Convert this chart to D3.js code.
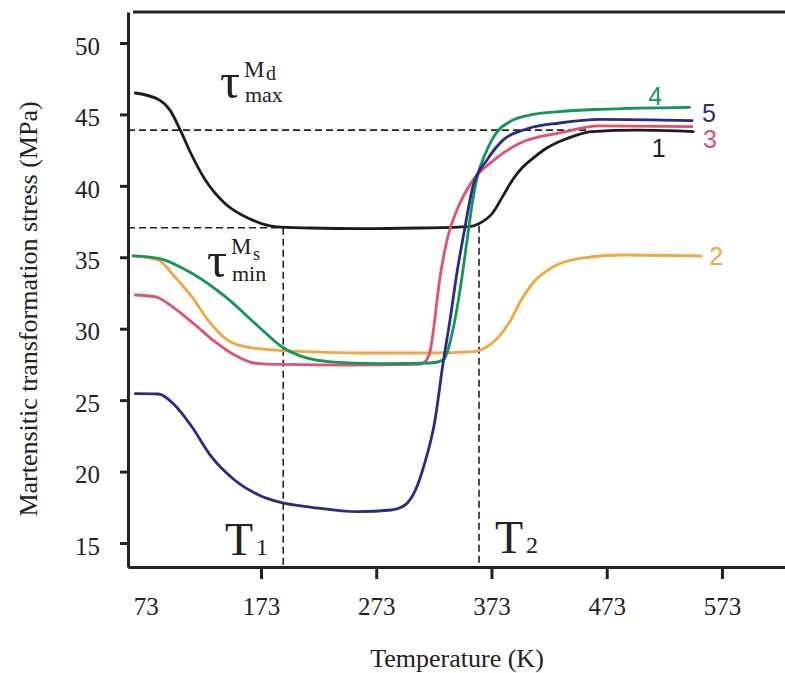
<!DOCTYPE html>
<html>
<head>
<meta charset="utf-8">
<script src="https://cdn.jsdelivr.net/npm/d3@7"></script>
<style>
  body { margin: 0; background: #fff; }
  svg { display: block; }
</style>
</head>
<body>
<div id="chart"></div>
<script>
// ---- data ----
const xTicks = [73, 173, 273, 373, 473, 573];
const yTicks = [15, 20, 25, 30, 35, 40, 45, 50];

// curve 1 (black)
const c1Temp = [64, 85, 94, 103, 112, 124, 142, 163, 185, 215, 260, 310, 354, 362, 374, 383, 392, 400, 410, 420, 432, 445, 460, 500, 548];
const c1Stress = [46.5, 46.0, 45.3, 43.9, 42.3, 40.5, 38.75, 37.7, 37.15, 37.05, 37.0, 37.05, 37.15, 37.35, 38.1, 39.3, 40.5, 41.3, 42.0, 42.6, 43.1, 43.5, 43.8, 43.9, 43.8];

// curve 2 (orange)
const c2Temp = [62, 84, 98, 113, 127, 142, 156, 185, 211, 260, 320, 358, 366, 372, 380, 389, 398, 409, 427, 450, 487, 555];
const c2Stress = [35.1, 34.8, 33.64, 32.24, 30.6, 29.33, 28.8, 28.5, 28.39, 28.3, 28.3, 28.4, 28.6, 28.9, 29.5, 30.5, 31.9, 33.2, 34.35, 34.93, 35.16, 35.09];

// curve 3 (pink)
const c3Temp = [64, 81, 98, 116, 133, 150, 168, 191, 250, 310, 316, 320, 323, 328, 335, 343, 357, 375, 398, 432, 467, 547];
const c3Stress = [32.36, 32.24, 31.43, 30.26, 29.09, 28.16, 27.58, 27.5, 27.45, 27.5, 27.75, 28.5, 30.14, 33.4, 36.4, 38.3, 40.4, 41.8, 43.0, 43.7, 44.2, 44.14];

// curve 4 (green)
const c4Temp = [62, 84, 113, 142, 171, 191, 211, 240, 280, 320, 331, 340, 347, 352, 356, 360, 369, 378, 389, 409, 432, 467, 545];
const c4Stress = [35.1, 34.93, 33.88, 32.24, 30.14, 28.74, 28.0, 27.65, 27.55, 27.6, 27.8, 30.1, 33.4, 36.3, 38.6, 40.4, 42.5, 43.8, 44.5, 45.0, 45.2, 45.36, 45.5];

// curve 5 (navy)
const c5Temp = [64, 84, 98, 113, 130, 150, 171, 191, 217, 257, 286, 298, 307, 315, 324, 331, 337, 343, 350, 357, 369, 383, 404, 432, 467, 547];
const c5Stress = [25.45, 25.43, 24.66, 23.14, 21.04, 19.41, 18.36, 17.82, 17.5, 17.19, 17.31, 17.66, 18.7, 20.58, 23.6, 27.6, 30.6, 33.9, 37.1, 40.0, 41.8, 43.2, 44.0, 44.4, 44.66, 44.56];

const seriesNames = ["1", "2", "3", "4", "5"];
const seriesColors = ["#1c1c1c", "#f0a845", "#de5373", "#14955a", "#2c2b83"];

// reference levels
const tauMax = 43.9, tauMin = 37.07;
const T1 = 192.3, T2 = 362.2;

// ---- chart ----
const svg = d3.select("#chart").append("svg")
  .attr("width", 785)
  .attr("height", 673);

const x = d3.scaleLinear().domain([57.6, 627.7]).range([128, 785]);
const y = d3.scaleLinear().domain([13.32, 52.17]).range([567, 12]);

const serif = "'Liberation Serif', 'Times New Roman', serif";
const sans = "'Liberation Sans', Arial, sans-serif";

// dashed guide lines
const guides = [
  [[x.domain()[0], tauMax], [458.5, tauMax]],
  [[x.domain()[0], tauMin], [T1, tauMin]],
  [[T1, tauMin], [T1, y.domain()[0]]],
  [[T2, 37.2], [T2, y.domain()[0]]]
];
svg.selectAll(".guide")
  .data(guides)
  .enter()
  .append("line")
  .attr("class", "guide")
  .attr("x1", d => x(d[0][0]))
  .attr("y1", d => y(d[0][1]))
  .attr("x2", d => x(d[1][0]))
  .attr("y2", d => y(d[1][1]))
  .attr("stroke", "#222")
  .attr("stroke-width", 1.6)
  .attr("stroke-dasharray", "7,4");

// curves
const allSeries = [
  d3.zip(c1Temp, c1Stress),
  d3.zip(c2Temp, c2Stress),
  d3.zip(c3Temp, c3Stress),
  d3.zip(c4Temp, c4Stress),
  d3.zip(c5Temp, c5Stress)
];

const line = d3.line()
  .x(d => x(d[0]))
  .y(d => y(d[1]))
  .curve(d3.curveMonotoneX);

svg.selectAll(".curve")
  .data(allSeries)
  .enter()
  .append("path")
  .attr("class", "curve")
  .attr("d", line)
  .attr("fill", "none")
  .attr("stroke", (d, i) => seriesColors[i])
  .attr("stroke-width", 2.8)
  .attr("stroke-linecap", "round");

// axes
const xAxis = svg.append("g")
  .attr("transform", "translate(0,567)")
  .call(d3.axisBottom(x).tickValues(xTicks).tickSize(12).tickSizeOuter(0).tickPadding(18));

const yAxis = svg.append("g")
  .attr("transform", "translate(128,0)")
  .call(d3.axisLeft(y).tickValues(yTicks).tickSize(8).tickSizeOuter(0).tickPadding(20));

[xAxis, yAxis].forEach(g => {
  g.select(".domain").attr("stroke", "#222").attr("stroke-width", 3);
  g.selectAll(".tick line").attr("stroke", "#222").attr("stroke-width", 3);
  g.selectAll(".tick text")
    .attr("fill", "#222")
    .style("font-family", serif)
    .style("font-size", "25px");
});
yAxis.selectAll(".tick text").attr("dy", "0.45em");
xAxis.selectAll(".tick").filter(d => d === 73).select("line").remove();

// top frame line
svg.append("line")
  .attr("x1", x.range()[0] + 5)
  .attr("x2", x.range()[1])
  .attr("y1", y.range()[1])
  .attr("y2", y.range()[1])
  .attr("stroke", "#222")
  .attr("stroke-width", 3);

// axis titles
svg.append("text")
  .attr("x", 457)
  .attr("y", 667)
  .attr("text-anchor", "middle")
  .style("font-family", serif)
  .style("font-size", "26px")
  .attr("fill", "#222")
  .text("Temperature (K)");

svg.append("text")
  .attr("transform", "translate(37,309) rotate(-90)")
  .attr("text-anchor", "middle")
  .style("font-family", serif)
  .style("font-size", "26px")
  .attr("fill", "#222")
  .text("Martensitic transformation stress (MPa)");

// curve number labels
const labelTemp = [512, 562, 556.5, 509, 555.6];
const labelStress = [42.0, 34.46, 42.65, 45.66, 44.47];
svg.selectAll(".num")
  .data(seriesNames)
  .enter()
  .append("text")
  .attr("class", "num")
  .attr("x", (d, i) => x(labelTemp[i]))
  .attr("y", (d, i) => y(labelStress[i]))
  .attr("fill", (d, i) => seriesColors[i])
  .style("font-family", sans)
  .style("font-size", "25px")
  .text(d => d);

// tau annotations
function tau(t, s, sup, supSub, subDy, subSize, sub, supDy) {
  const g = svg.append("g")
    .attr("transform", `translate(${x(t)},${y(s)})`)
    .attr("fill", "#222")
    .style("font-family", serif);
  g.append("text").style("font-size", "50px").text("τ");
  g.append("text").attr("x", 24).attr("y", supDy).style("font-size", "23px").text(sup);
  g.append("text").attr("x", 46).attr("y", subDy).style("font-size", subSize).text(supSub);
  g.append("text").attr("x", 25).attr("y", 4).style("font-size", "22px").text(sub);
}
tau(137.4, 46.15, "M", "d", -18, "20px", "max", -21);
tau(126.1, 33.62, "M", "s", -17, "18px", "min", -23);

function tLabel(t, s, idx) {
  const g = svg.append("g")
    .attr("transform", `translate(${x(t)},${y(s)})`)
    .attr("fill", "#222")
    .style("font-family", serif);
  g.append("text").style("font-size", "46px").text("T");
  g.append("text").attr("x", 31).style("font-size", "24px").text(idx);
}
tLabel(141.8, 14.16, "1");
tLabel(376, 14.3, "2");
</script>
</body>
</html>
